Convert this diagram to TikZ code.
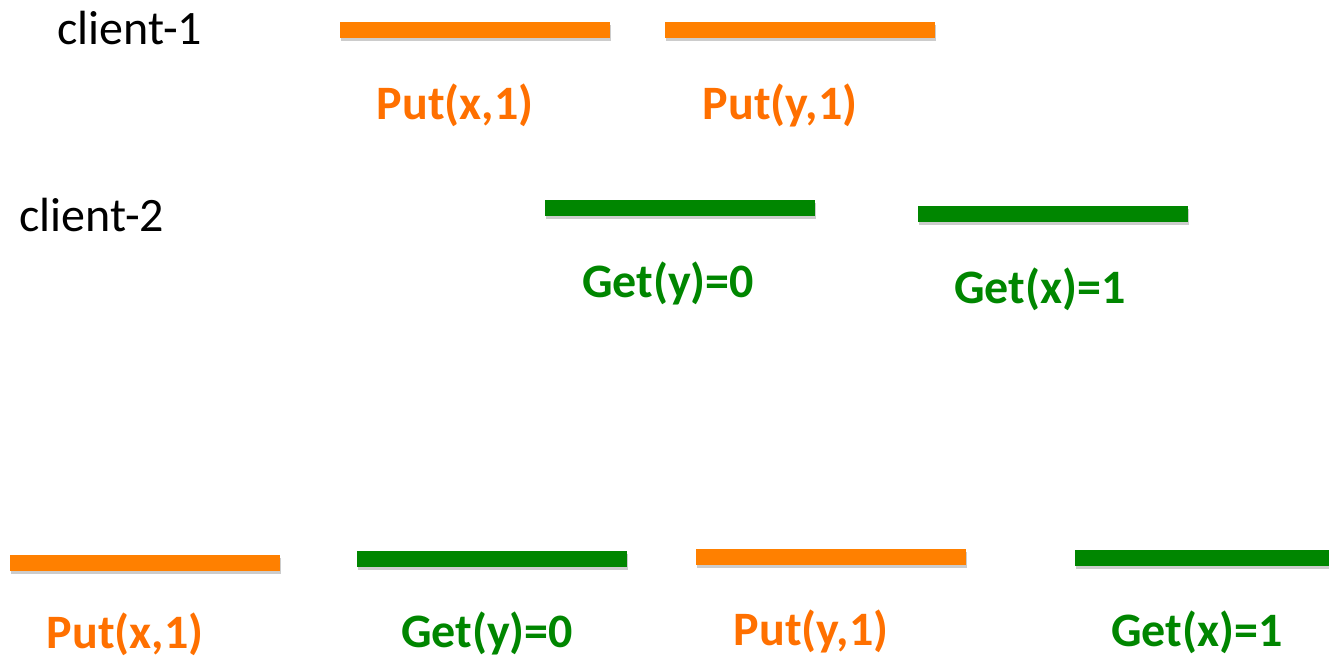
\documentclass[tikz,border=0pt]{standalone}
\usepackage{fontspec}
\setmainfont{Carlito}
\usetikzlibrary{positioning,shadows}
\definecolor{PutOrange}{RGB}{255,128,0}
\definecolor{PutText}{RGB}{255,112,0}
\definecolor{GetGreen}{RGB}{0,134,0}
\tikzset{
	opbar/.style={rectangle,fill=PutOrange,inner sep=0pt,minimum width=202.5pt,minimum height=12pt,
		drop shadow={shadow xshift=1pt,shadow yshift=-2pt,opacity=0.2,fill=black}},
	gpbar/.style={opbar,fill=GetGreen},
	oplabel/.style={text=PutText,font=\fontsize{36}{40}\selectfont\bfseries,inner sep=0pt},
	gplabel/.style={oplabel,text=GetGreen},
	client/.style={font=\fontsize{36}{40}\selectfont,inner sep=0pt}
}

\begin{document}
\begin{tikzpicture}[x=0.75pt,y=-0.75pt]
	\useasboundingbox (0,0) rectangle (1329,660);
	% clients
	\node[client] (c1) at (130,28) {client-1};
	\node[client] (c2) at (92,215) {client-2};
	% client-1 ops
	\node[opbar] (putx) at (475,30) {};
	\node[opbar] (puty) at (800,30) {};
	\node[oplabel] (putxl) at (455,105) {Put(x,1)};
	\node[oplabel] (putyl) at (780,105) {Put(y,1)};
	% client-2 ops
	\node[gpbar] (gety) at (680,208) {};
	\node[gpbar] (getx) at (1053,214) {};
	\node[gplabel] (getyl) at (668,283) {Get(y)=0};
	\node[gplabel] (getxl) at (1040,289) {Get(x)=1};
	% sequential order
	\node[opbar] (sputx) at (145,563) {};
	\node[gpbar] (sgety) at (492,559) {};
	\node[opbar] (sputy) at (831,557) {};
	\node[gpbar,minimum width=190.5pt] (sgetx) at (1202,558) {};
	\node[oplabel] (sputxl) at (125,634) {Put(x,1)};
	\node[gplabel] (sgetyl) at (487,633) {Get(y)=0};
	\node[oplabel] (sputyl) at (811,631) {Put(y,1)};
	\node[gplabel] (sgetxl) at (1197,632) {Get(x)=1};
\end{tikzpicture}
\end{document}
